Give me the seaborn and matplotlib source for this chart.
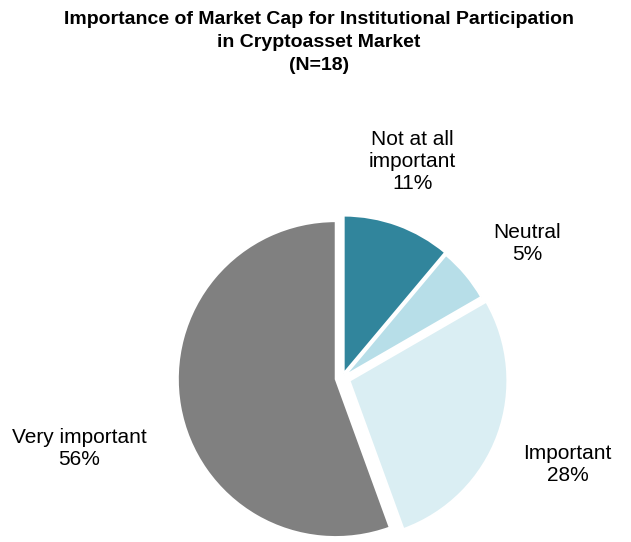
import numpy as np
import seaborn as sns
import matplotlib.pyplot as plt

# survey answers (N=18)
categories = ["Not at all\nimportant", "Neutral", "Important", "Very important"]
counts = [2, 1, 5, 10]
pct_labels = ["11%", "5%", "28%", "56%"]
colors = ["#31859C", "#B7DEE8", "#DAEEF3", "#808080"]

sns.set_theme(style="white")
plt.rcParams['font.family'] = ['Liberation Sans', 'DejaVu Sans']

fig = plt.figure(figsize=(6.31, 5.42), dpi=100)
ax = fig.add_axes([0, 0, 1, 1])

# pie centre / radius in pixels
cx, cy, rpx = 342, 378, 158
W, H = 631, 542

labels = [f"{c}\n{p}" for c, p in zip(categories, pct_labels)]
wedges, texts = ax.pie(counts, labels=labels, colors=colors, startangle=90,
                       counterclock=False, explode=[0.03, 0.02, 0.05, 0.04],
                       wedgeprops=dict(edgecolor="white", linewidth=1.5),
                       textprops=dict(fontsize=15, color="black"),
                       labeldistance=1.45)

# label distances (in radii) and small angle nudges per slice
dists = [1.44, 1.45, 1.53, 1.72]
nudges = [2, -4, -1, 5]
for w, t, d, n in zip(wedges, texts, dists, nudges):
    ang = np.deg2rad((w.theta1 + w.theta2) / 2 + n)
    t.set_position((d * np.cos(ang), d * np.sin(ang)))
    t.set_horizontalalignment("center")
    t.set_verticalalignment("center")
    t.set_multialignment("center")
    t.set_linespacing(1.2)

ax.set_aspect("auto")
ax.set_xlim(-cx / rpx, (W - cx) / rpx)
ax.set_ylim(-(H - cy) / rpx, cy / rpx)
ax.axis("off")

fig.text(0.505, 0.979, "Importance of Market Cap for Institutional Participation\nin Cryptoasset Market\n(N=18)",
         ha="center", va="top", fontsize=14, fontweight="bold", linespacing=1.45,
         color="black")

fig.savefig("out.png", dpi=100)
